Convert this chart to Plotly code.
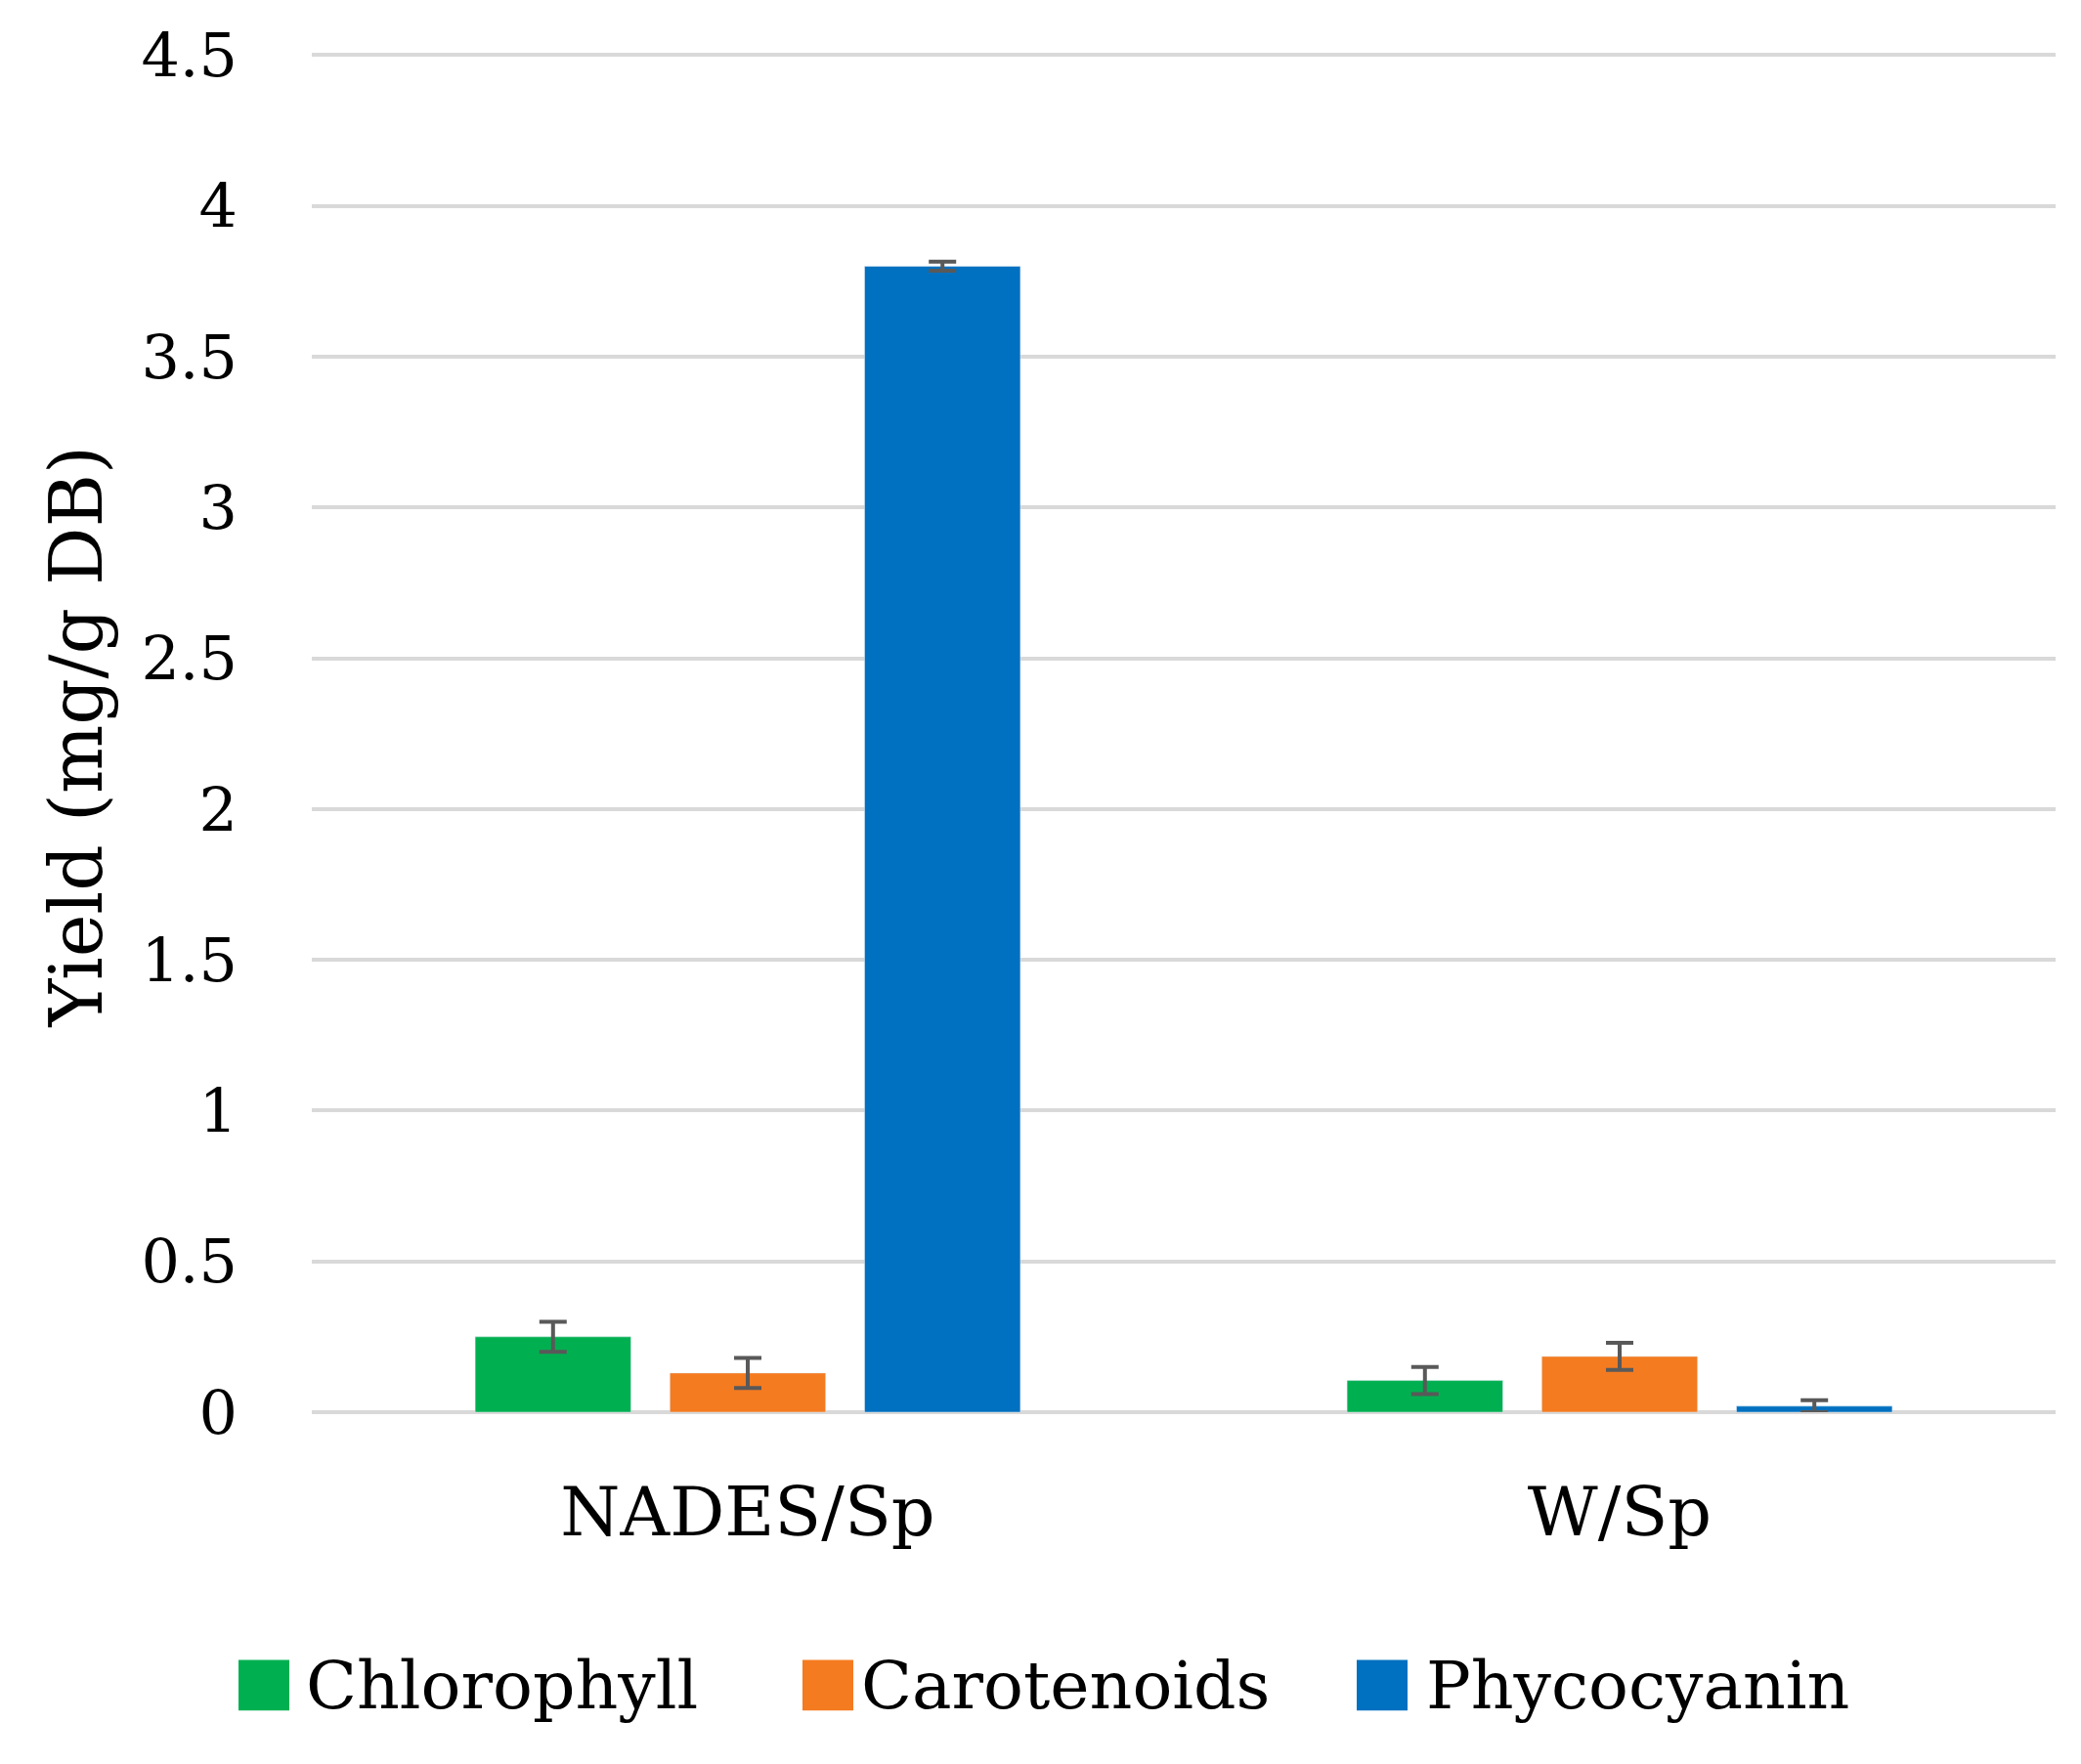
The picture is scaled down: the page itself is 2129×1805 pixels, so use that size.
import plotly.graph_objects as go

# data
groups = ["NADES/Sp", "W/Sp"]
series = ["Chlorophyll", "Carotenoids", "Phycocyanin"]
chlorophyll = [0.25, 0.105]
carotenoids = [0.13, 0.185]
phycocyanin = [3.80, 0.02]
chlorophyll_err = [0.05, 0.045]
carotenoids_err = [0.05, 0.045]
phycocyanin_err = [0.015, 0.02]
yticks = [0, 0.5, 1, 1.5, 2, 2.5, 3, 3.5, 4, 4.5]
ytick_labels = ["0", "0.5", "1", "1.5", "2", "2.5", "3", "3.5", "4", "4.5"]

colors = ["#00B050", "#F47B20", "#0070C0"]
FONT = "Palatino Linotype, Book Antiqua, Palatino, DejaVu Serif, serif"

W, H = 2129, 1805
L, R, T, B = 311, 34, 30, 368
PW, PH = W - L - R, H - T - B

#pixel -> paper helpers for the hand made legend / title
def px(x):
    return (x - L) / PW

def py(y):
    return (H - B - y) / PH

fig = go.Figure()
vals = [chlorophyll, carotenoids, phycocyanin]
errs = [chlorophyll_err, carotenoids_err, phycocyanin_err]
for name, v, e, c in zip(series, vals, errs, colors):
    fig.add_trace(go.Bar(
        x=groups, y=v, name=name, marker_color=c, showlegend=False,
        error_y=dict(type="data", array=e, color="#595959", thickness=4, width=14),
    ))

fig.update_layout(
    width=W, height=H,
    margin=dict(l=L, r=R, t=T, b=B),
    plot_bgcolor="white", paper_bgcolor="white",
    barmode="group", bargap=0.33, bargroupgap=0.2,
    font=dict(family=FONT, color="black", size=70),
)
fig.update_xaxes(showgrid=False, showline=False, ticks="",
                 tickfont=dict(size=70), ticklabelstandoff=55)
fig.update_yaxes(range=[0, 4.55], tickvals=yticks, ticktext=ytick_labels,
                 showgrid=True, gridcolor="#D9D9D9", gridwidth=4,
                 zeroline=True, zerolinecolor="#D9D9D9", zerolinewidth=4,
                 showline=False, ticks="", tickfont=dict(size=62),
                 ticklabelstandoff=75)

# y title
fig.add_annotation(text="Yield (mg/g DB)", xref="paper", yref="paper",
                   x=px(70), y=py(745), textangle=-90, showarrow=False,
                   font=dict(size=74), xanchor="center", yanchor="middle")

# legend with large squares
sq_x = [236, 813, 1380]
txt_x = [303, 871, 1449]
for name, c, sx, tx in zip(series, colors, sq_x, txt_x):
    fig.add_shape(type="rect", xref="paper", yref="paper",
                  x0=px(sx), x1=px(sx + 52), y0=py(1691), y1=py(1743),
                  fillcolor=c, line_width=0)
    fig.add_annotation(text=name, xref="paper", yref="paper",
                       x=px(tx), y=py(1717), showarrow=False,
                       xanchor="left", yanchor="middle", font=dict(size=68))

fig.write_html("out.html")
